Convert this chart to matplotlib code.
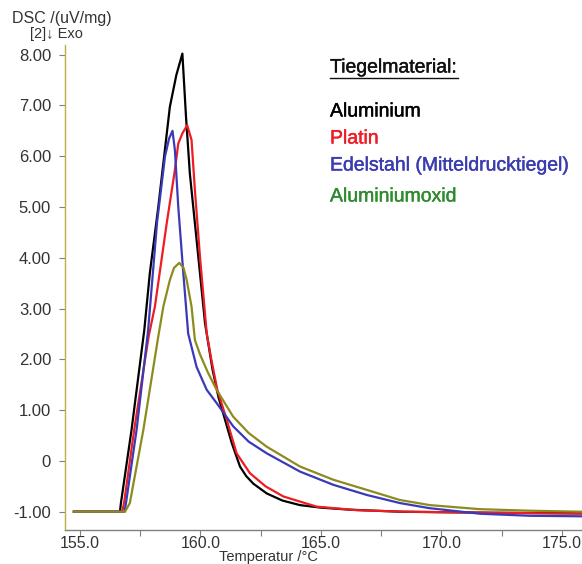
import matplotlib
matplotlib.use("Agg")
import matplotlib.pyplot as plt
from matplotlib.lines import Line2D
from matplotlib.ticker import FixedLocator, FixedFormatter
import matplotlib.patheffects as pe

plt.rcParams['font.family'] = ['Liberation Sans', 'DejaVu Sans']

# ---- data ----
alu_T = [154.75, 156.66, 156.70, 157.14, 157.67, 157.9, 158.25, 158.73, 159.0, 159.25,
         159.40, 159.56, 159.84, 160.19, 160.5, 160.75, 161.02, 161.3, 161.64, 161.9,
         162.2, 162.75, 163.4, 164.13, 165.0, 166.2, 168.28, 172.0, 175.8]
alu_V = [-1.0, -1.0, -0.83, 0.61, 2.58, 3.7, 5.0, 6.97, 7.6, 8.02,
         6.78, 5.66, 4.35, 2.71, 1.8, 1.25, 0.81, 0.35, -0.11, -0.3,
         -0.45, -0.64, -0.78, -0.87, -0.92, -0.96, -1.0, -1.02, -1.03]

pt_T = [154.75, 156.75, 156.83, 157.25, 157.85, 158.11, 158.6, 158.94, 159.08, 159.25,
        159.45, 159.63, 159.77, 159.98, 160.26, 160.45, 160.7, 161.09, 161.5, 162.05,
        162.7, 163.44, 164.82, 166.5, 168.5, 172.0, 175.8]
pt_V = [-1.0, -1.0, -0.83, 0.61, 2.45, 3.04, 4.68, 5.73, 6.25, 6.45,
        6.61, 6.32, 5.33, 4.02, 2.51, 2.0, 1.4, 0.81, 0.15, -0.24,
        -0.5, -0.70, -0.90, -0.97, -1.0, -1.02, -1.04]

steel_T = [154.75, 156.85, 156.91, 157.35, 157.83, 158.2, 158.53, 158.7, 158.84, 158.94,
           159.08, 159.29, 159.49, 159.84, 160.26, 160.67, 161.36, 162.0, 162.75, 164.13,
           165.51, 166.9, 168.28, 169.5, 171.6, 173.67, 175.8]
steel_V = [-1.0, -1.0, -0.83, 0.61, 2.58, 4.7, 6.0, 6.35, 6.5, 6.12,
           5.0, 3.69, 2.51, 1.85, 1.40, 1.14, 0.68, 0.38, 0.15, -0.21,
           -0.47, -0.67, -0.83, -0.93, -1.04, -1.08, -1.09]

oxid_T = [154.75, 156.87, 157.07, 157.63, 158.25, 158.46, 158.73, 158.9, 159.12, 159.3,
          159.43, 159.63, 159.77, 159.98, 160.3, 160.67, 161.36, 162.0, 162.75, 164.13,
          165.51, 166.9, 167.45, 168.28, 169.52, 171.6, 173.67, 175.8]
oxid_V = [-1.0, -1.0, -0.83, 0.61, 2.45, 3.04, 3.56, 3.8, 3.90, 3.8,
          3.56, 3.04, 2.38, 2.1, 1.75, 1.40, 0.87, 0.55, 0.28, -0.11,
          -0.37, -0.57, -0.65, -0.77, -0.87, -0.95, -0.98, -1.0]

x_ticks = [155.0, 160.0, 165.0, 170.0, 175.0]
x_ticklabels = ['155.0', '160.0', '165.0', '170.0', '175.0']
x_minor = [157.5, 162.5, 167.5, 172.5]
y_ticks = [8, 7, 6, 5, 4, 3, 2, 1, 0, -1]
y_ticklabels = ['8.00', '7.00', '6.00', '5.00', '4.00', '3.00', '2.00', '1.00', '0', '-1.00']

legend_title = 'Tiegelmaterial:'
legend_names = ['Aluminium', 'Platin', 'Edelstahl (Mitteldrucktiegel)', 'Aluminiumoxid']
legend_colors = ['#000000', '#ee1c24', '#3b3bb0', '#2e8b2e']
line_colors = ['#000000', '#ee1c24', '#3a3ab8', '#8c8c1e']

# ---- figure ----
W, H = 582, 564
fig = plt.figure(figsize=(W / 100, H / 100), dpi=100)
ax = fig.add_axes([65 / W, 1 - 530 / H, 1 - 65 / W, (530 - 45) / H])

series = [(alu_T, alu_V), (pt_T, pt_V), (steel_T, steel_V), (oxid_T, oxid_V)]
for (t, v), c in zip(series, line_colors):
    ax.plot(t, v, color=c, lw=1.6, solid_joinstyle='round')

ax.set_xlim(154.38, 175.83)
ax.set_ylim(-1.36, 8.19)

for s in ['top', 'right']:
    ax.spines[s].set_visible(False)
ax.spines['left'].set_color('#b8b040')
ax.spines['left'].set_linewidth(1.0)
ax.spines['bottom'].set_color('#808080')
ax.spines['bottom'].set_linewidth(1.0)

ax.xaxis.set_major_locator(FixedLocator(x_ticks))
ax.xaxis.set_major_formatter(FixedFormatter(x_ticklabels))
ax.xaxis.set_minor_locator(FixedLocator(x_minor))
ax.yaxis.set_major_locator(FixedLocator(y_ticks))
ax.yaxis.set_major_formatter(FixedFormatter(y_ticklabels))

ax.tick_params(axis='x', which='both', direction='out', length=4, width=0.8,
               color='#808080', labelsize=11.5, labelcolor='#333333', pad=0)
ax.tick_params(axis='y', which='major', direction='out', length=4, width=0.8,
               color='#808080', labelsize=12, labelcolor='#333333', pad=6)

fig.text(268 / W, 0, 'Temperatur /°C', fontsize=10.5, color='#333333',
         ha='center', va='bottom')

fig.text(12 / W, 1 - 19 / H, 'DSC /(uV/mg)', fontsize=11.5, color='#333333', va='center')
fig.text(30 / W, 1 - 34 / H, '[2]↓ Exo', fontsize=10.5, color='#333333', va='center')

# legend-like annotation
stroke = lambda c: [pe.withStroke(linewidth=0.3, foreground=c)]
title = fig.text(330 / W, 1 - 68 / H, legend_title, fontsize=14, color='#111111',
                 va='center', path_effects=stroke('#111111'))
ys = [112, 139, 166, 197]
for name, col, y in zip(legend_names, legend_colors, ys):
    fig.text(330 / W, 1 - y / H, name, fontsize=14, color=col, va='center',
             path_effects=stroke(col))

fig.canvas.draw()
bb = title.get_window_extent(renderer=fig.canvas.get_renderer())
inv = fig.transFigure.inverted()
(x0, y0), (x1, _) = inv.transform([(bb.x0, bb.y0), (bb.x1, bb.y0)])
fig.add_artist(Line2D([x0, x1], [y0 - 1 / H, y0 - 1 / H], transform=fig.transFigure,
                      color='#111111', lw=1.0))

fig.savefig('out.png', dpi=100)
